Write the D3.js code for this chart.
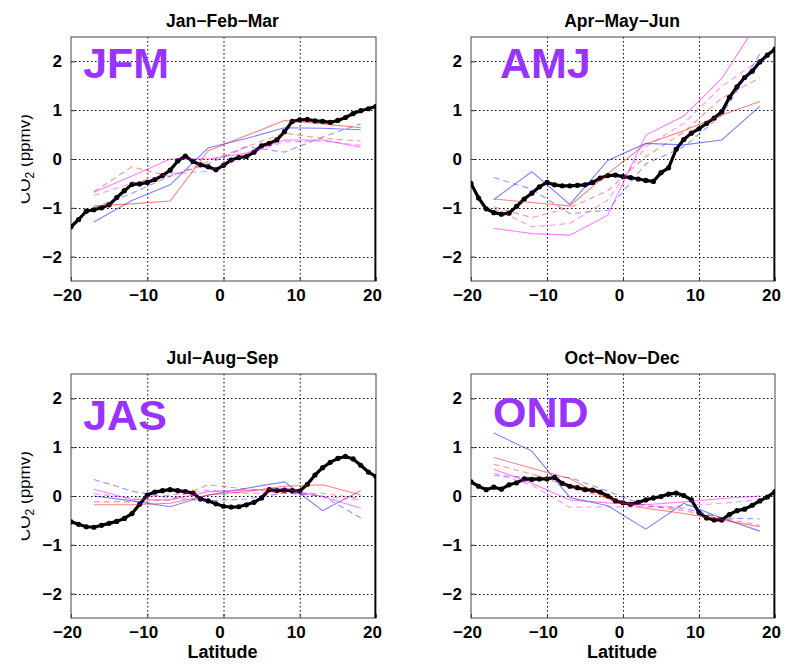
<!DOCTYPE html>
<html>
<head>
<meta charset="utf-8">
<script src="https://cdn.jsdelivr.net/npm/d3@7"></script>
<style>
  body { margin: 0; background: #fff; }
  svg { display: block; }
  text { font-family: "Liberation Sans", Arial, Helvetica, sans-serif; }
</style>
</head>
<body>
<svg id="chart" width="789" height="671"></svg>
<script>
// ---- data ---------------------------------------------------------------
// Model latitude grid (degrees)
const latitudes = [-20,-19,-18,-17,-16,-15,-14,-13,-12,-11,-10,-9,-8,-7,-6,-5,-4,-3,-2,-1,
                   0,1,2,3,4,5,6,7,8,9,10,11,12,13,14,15,16,17,18,19,20];
// Station-band latitudes of the observed profiles
const stationLats = [-17, -12, -7, -2, 3, 8, 13, 18];

const panelTitles = ["Jan\u2212Feb\u2212Mar", "Apr\u2212May\u2212Jun", "Jul\u2212Aug\u2212Sep", "Oct\u2212Nov\u2212Dec"];
const seasonCodes = ["JFM", "AMJ", "JAS", "OND"];

// Model CO2 anomaly (ppmv) along the grid
const modelJFM = [-1.39,-1.24,-1.07,-1.04,-1.00,-0.94,-0.79,-0.65,-0.52,-0.51,-0.48,-0.42,-0.34,-0.23,-0.04,0.06,-0.05,-0.12,-0.16,-0.22,
                  -0.13,-0.02,0.03,0.05,0.14,0.27,0.32,0.39,0.56,0.77,0.80,0.81,0.78,0.77,0.75,0.79,0.85,0.93,0.99,1.03,1.08];
const modelAMJ = [-0.50,-0.80,-1.02,-1.10,-1.13,-1.11,-0.97,-0.82,-0.70,-0.57,-0.48,-0.53,-0.55,-0.55,-0.54,-0.53,-0.48,-0.39,-0.34,-0.33,
                  -0.36,-0.38,-0.41,-0.44,-0.46,-0.28,-0.18,0.20,0.40,0.53,0.62,0.73,0.84,0.97,1.26,1.48,1.67,1.80,1.99,2.13,2.25];
const modelJAS = [-0.53,-0.58,-0.63,-0.64,-0.60,-0.56,-0.52,-0.46,-0.36,-0.17,0.02,0.08,0.11,0.13,0.11,0.09,0.06,-0.06,-0.10,-0.16,
                  -0.21,-0.23,-0.22,-0.18,-0.13,-0.04,0.13,0.11,0.12,0.11,0.10,0.24,0.43,0.58,0.69,0.77,0.81,0.76,0.63,0.49,0.40];
const modelOND = [0.29,0.20,0.13,0.18,0.14,0.23,0.27,0.35,0.34,0.35,0.35,0.38,0.26,0.20,0.17,0.13,0.12,0.08,0.00,-0.10,
                  -0.14,-0.17,-0.13,-0.08,-0.04,-0.01,0.04,0.06,0.01,-0.08,-0.34,-0.45,-0.49,-0.49,-0.38,-0.30,-0.27,-0.19,-0.10,-0.02,0.09];

// Observed profiles, one row per series (order follows obsColors / obsDashed)
const obsJFM = [
  [-1.29,-0.85,-0.53, 0.23, 0.42, 0.64, 0.63, 0.60],
  [-1.00,-0.70,-0.35,-0.10, 0.25, 0.14, 0.45, 0.72],
  [-0.96,-0.92,-0.86, 0.17, 0.48, 0.79, 0.72, 0.64],
  [-0.67,-0.16,-0.36,-0.05, 0.25, 0.53, 0.42, 0.37],
  [-0.68,-0.35, 0.00, 0.00, 0.12, 0.39, 0.39, 0.24],
  [-0.75,-0.50,-0.30,-0.25, 0.10, 0.35, 0.37, 0.28]
];
const obsAMJ = [
  [-0.83,-0.26,-0.93,-0.03, 0.32, 0.29, 0.39, 1.08],
  [-0.38,-0.62,-1.12,-1.05,-0.10, 0.25, 0.90, 2.15],
  [-0.82,-0.89,-0.96,-0.30, 0.31, 0.58, 0.90, 1.18],
  [-0.98,-1.20,-1.00,-0.65, 0.05, 0.55, 1.25, 1.66],
  [-1.42,-1.53,-1.56,-1.15, 0.49, 0.88, 1.65, 2.86],
  [-1.01,-1.39,-1.32,-0.84, 0.25, 0.73, 1.49, 2.03]
];
const obsJAS = [
  [ 0.00,-0.10,-0.22, 0.02, 0.16, 0.29,-0.30, 0.11],
  [ 0.34, 0.10,-0.04,-0.10,-0.06, 0.06, 0.00,-0.45],
  [-0.18,-0.18,-0.15, 0.02, 0.09, 0.20, 0.23, 0.02],
  [-0.12,-0.12,-0.08, 0.23, 0.14, 0.06, 0.05,-0.05],
  [ 0.14,-0.07,-0.08, 0.09, 0.12, 0.15,-0.01,-0.25],
  [ 0.05,-0.05, 0.02, 0.12, 0.05, 0.09,-0.01,-0.08]
];
const obsOND = [
  [ 1.29, 0.92,-0.03,-0.20,-0.68,-0.15,-0.45,-0.72],
  [ 0.42, 0.38, 0.38, 0.10,-0.20,-0.25,-0.45,-0.47],
  [ 0.79, 0.57, 0.36,-0.05,-0.25,-0.36,-0.49,-0.63],
  [ 0.65, 0.45, 0.20,-0.05,-0.20,-0.30,-0.45,-0.60],
  [ 0.55, 0.26,-0.08,-0.14,-0.18,-0.12,-0.05, 0.00],
  [ 0.47, 0.22,-0.23,-0.22,-0.23,-0.20,-0.15,-0.08]
];

const xTicks = [-20, -10, 0, 10, 20];
const yTicks = [-2, -1, 0, 1, 2];

// ---- styling / layout ---------------------------------------------------
const obsColors = ["#0000ff", "#0000ff", "#ff0000", "#ff0000", "#ff00ff", "#ff00ff"];
const obsDashed = [false, true, false, true, false, true];

const panels = [
  { model: modelJFM, obs: obsJFM, box: [71, 376, 37, 281],  code: [-18.4, 1.66], ylab: true,  xlab: false },
  { model: modelAMJ, obs: obsAMJ, box: [471, 775, 37, 281], code: [-16.2, 1.66], ylab: false, xlab: false },
  { model: modelJAS, obs: obsJAS, box: [71, 376, 374, 618], code: [-18.4, 1.36], ylab: true,  xlab: true },
  { model: modelOND, obs: obsOND, box: [471, 775, 374, 618], code: [-17.1, 1.42], ylab: false, xlab: true }
];

const svg = d3.select("#chart");
const defs = svg.append("defs");
const fmt = d3.format("d");

panels.forEach((p, i) => {
  const [x0, x1, y0, y1] = p.box;
  const x = d3.scaleLinear().domain([-20, 20]).range([x0, x1]);
  const y = d3.scaleLinear().domain([-2.5, 2.5]).range([y1, y0]);
  const g = svg.append("g");

  const clipId = "clip" + i;
  defs.append("clipPath").attr("id", clipId)
    .append("rect").attr("x", x0).attr("y", y0).attr("width", x1 - x0).attr("height", y1 - y0);

  // dotted grid
  g.append("g").selectAll("line").data(xTicks.slice(1, -1)).join("line")
    .attr("x1", d => x(d) + 0.5).attr("x2", d => x(d) + 0.5).attr("y1", y0).attr("y2", y1)
    .attr("stroke", "#000").attr("stroke-width", 1).attr("stroke-dasharray", "1.5,2.5");
  g.append("g").selectAll("line").data(yTicks).join("line")
    .attr("x1", x0).attr("x2", x1).attr("y1", d => Math.round(y(d)) + 0.5).attr("y2", d => Math.round(y(d)) + 0.5)
    .attr("stroke", "#000").attr("stroke-width", 1).attr("stroke-dasharray", "1.5,2.5");

  // axes with inward ticks
  const ax = g.append("g").attr("transform", `translate(0,${y1})`)
    .call(d3.axisBottom(x).tickValues(xTicks).tickFormat(fmt).tickSizeInner(-4).tickSizeOuter(0).tickPadding(8));
  const ay = g.append("g").attr("transform", `translate(${x0},0)`)
    .call(d3.axisLeft(y).tickValues(yTicks).tickFormat(fmt).tickSizeInner(-4).tickSizeOuter(0).tickPadding(9));
  [ax, ay].forEach(a => {
    a.select(".domain").remove();
    a.selectAll(".tick line").attr("stroke", "#333");
    a.selectAll("text").attr("font-size", 17).attr("font-weight", "bold").attr("fill", "#000")
      .attr("font-family", '"Liberation Sans", Arial, sans-serif');
  });
  ax.selectAll("text").attr("dx", -4);

  // frame
  g.append("rect").attr("x", x0).attr("y", y0).attr("width", x1 - x0).attr("height", y1 - y0)
    .attr("fill", "none").attr("stroke", "#444").attr("stroke-width", 1);

  const plot = g.append("g").attr("clip-path", `url(#${clipId})`);

  // model profile
  const line = d3.line().x((d, j) => x(latitudes[j])).y(d => y(d));
  plot.append("path").datum(p.model).attr("d", line)
    .attr("fill", "none").attr("stroke", "#000").attr("stroke-width", 3.2).attr("stroke-linejoin", "round");
  const last = p.model.length - 1;
  plot.append("line")
    .attr("x1", x(latitudes[last])).attr("x2", x(latitudes[last]))
    .attr("y1", y(p.model[last])).attr("y2", y(-2.5))
    .attr("stroke", "#000").attr("stroke-width", 3.2);
  plot.append("g").selectAll("circle").data(p.model).join("circle")
    .attr("cx", (d, j) => x(latitudes[j])).attr("cy", d => y(d)).attr("r", 2.6).attr("fill", "#000");

  // observed profiles
  const obsLine = d3.line().x((d, j) => x(stationLats[j])).y(d => y(d));
  plot.append("g").selectAll("path").data(p.obs).join("path")
    .attr("d", obsLine).attr("fill", "none")
    .attr("stroke", (d, k) => obsColors[k])
    .attr("stroke-opacity", (d, k) => obsDashed[k] ? 0.42 : 0.5)
    .attr("stroke-width", 1.1)
    .attr("stroke-dasharray", (d, k) => obsDashed[k] ? "6,4" : null);

  // season code
  g.append("text").attr("x", x(p.code[0])).attr("y", y(p.code[1]))
    .attr("font-size", 43).attr("font-weight", "bold").attr("fill", "#9933ff")
    .text(seasonCodes[i]);

  // title
  g.append("text").attr("x", (x0 + x1) / 2 - 1).attr("y", y0 - 10.5)
    .attr("text-anchor", "middle").attr("font-size", 17.5).attr("font-weight", "bold")
    .text(panelTitles[i]);

  if (p.xlab) {
    g.append("text").attr("x", (x0 + x1) / 2 - 1).attr("y", y1 + 40)
      .attr("text-anchor", "middle").attr("font-size", 18).attr("font-weight", "bold")
      .text("Latitude");
  }
  if (p.ylab) {
    const lc = "ylclip" + i;
    defs.append("clipPath").attr("id", lc)
      .append("rect").attr("x", 21.5).attr("y", y0).attr("width", 30).attr("height", y1 - y0);
    const t = g.append("g").attr("clip-path", `url(#${lc})`)
      .append("text")
      .attr("transform", `translate(30,${(y0 + y1) / 2}) rotate(-90)`)
      .attr("text-anchor", "middle").attr("font-size", 17);
    t.append("tspan").text("CO");
    t.append("tspan").attr("font-size", 12).attr("dy", 4).text("2");
    t.append("tspan").attr("dy", -4).text(" (ppmv)");
  }
});
</script>
</body>
</html>
